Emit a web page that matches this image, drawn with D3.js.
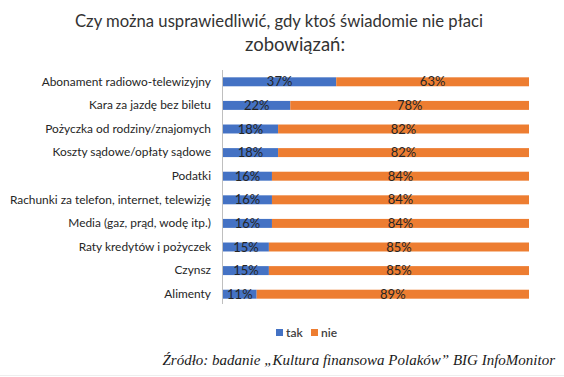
<!DOCTYPE html>
<html><head><meta charset="utf-8">
<script src="https://cdn.jsdelivr.net/npm/d3@7"></script>
<style>
html,body{margin:0;padding:0;background:#fff;}
svg{display:block;}
</style></head>
<body>
<script>
const categories = [
  "Abonament radiowo-telewizyjny",
  "Kara za jazdę bez biletu",
  "Pożyczka od rodziny/znajomych",
  "Koszty sądowe/opłaty sądowe",
  "Podatki",
  "Rachunki za telefon, internet, telewizję",
  "Media (gaz, prąd, wodę itp.)",
  "Raty kredytów i pożyczek",
  "Czynsz",
  "Alimenty"
];
const takValues = [37, 22, 18, 18, 16, 16, 16, 15, 15, 11];
const nieValues = [63, 78, 82, 82, 84, 84, 84, 85, 85, 89];
const seriesNames = ["tak", "nie"];
const seriesColors = ["#4472C4", "#ED7D31"];
const titleLines = ["Czy można usprawiedliwić, gdy ktoś świadomie nie płaci", "zobowiązań:"];
const sourceText = "Źródło: badanie „Kultura finansowa Polaków” BIG InfoMonitor";

const W = 564, H = 377;
const svg = d3.select("body").append("svg").attr("width", W).attr("height", H);
const font = "Lato, 'Open Sans', sans-serif";

// title
svg.append("text").attr("x", 279).attr("y", 27).attr("text-anchor", "middle")
  .attr("font-family", font).attr("font-size", 18).attr("fill", "#333333")
  .attr("textLength", 408).attr("lengthAdjust", "spacingAndGlyphs")
  .text(titleLines[0]);
svg.append("text").attr("x", 295).attr("y", 51).attr("text-anchor", "middle")
  .attr("font-family", font).attr("font-size", 18.5).attr("fill", "#333333")
  .text(titleLines[1]);

const x = d3.scaleLinear().domain([0, 100]).range([223, 529]);
const y = d3.scaleBand().domain(categories).range([70, 306]).paddingInner(0.62).paddingOuter(0.31);

const rows = categories.map((c, i) => ({c, tak: takValues[i], nie: nieValues[i]}));
const stack = d3.stack().keys(seriesNames)(rows);

const g = svg.append("g");
stack.forEach((s, si) => {
  g.selectAll(null).data(s).join("rect")
    .attr("x", d => x(d[0]))
    .attr("y", d => y(d.data.c))
    .attr("width", d => x(d[1]) - x(d[0]))
    .attr("height", y.bandwidth())
    .attr("fill", seriesColors[si]);
  g.selectAll(null).data(s).join("text")
    .attr("x", d => (x(d[0]) + x(d[1])) / 2)
    .attr("y", d => y(d.data.c) + y.bandwidth() / 2)
    .attr("dy", "0.36em")
    .attr("text-anchor", "middle")
    .attr("font-family", font).attr("font-size", 13).attr("fill", "#262626")
    .text(d => (d[1] - d[0]) + "%");
});

// axis
const yAxis = d3.axisLeft(y).tickSize(0).tickPadding(11);
const ag = svg.append("g").attr("transform", "translate(222,0)").call(yAxis);
ag.select(".domain").attr("stroke", "#bfbfbf").attr("d", "M0.5,70V304");
ag.selectAll("text").attr("font-family", font).attr("font-size", 11.9).attr("fill", "#262626");

// legend
const lg = svg.append("g");
const legendX = [276, 311];
seriesNames.forEach((n, i) => {
  lg.append("rect").attr("x", legendX[i]).attr("y", 329).attr("width", 7).attr("height", 7).attr("fill", seriesColors[i]);
  lg.append("text").attr("x", legendX[i] + 10).attr("y", 336.5)
    .attr("font-family", font).attr("font-size", 12).attr("font-weight", 600).attr("fill", "#404040").text(n);
});

// source
svg.append("text").attr("x", 555).attr("y", 365).attr("text-anchor", "end")
  .attr("font-family", "'Liberation Serif', serif").attr("font-style", "italic")
  .attr("font-size", 15).attr("fill", "#1a1a1a").text(sourceText);
svg.append("line").attr("x1", 0).attr("x2", W).attr("y1", 375.5).attr("y2", 375.5).attr("stroke", "#eeeeee");
</script>
</body></html>
